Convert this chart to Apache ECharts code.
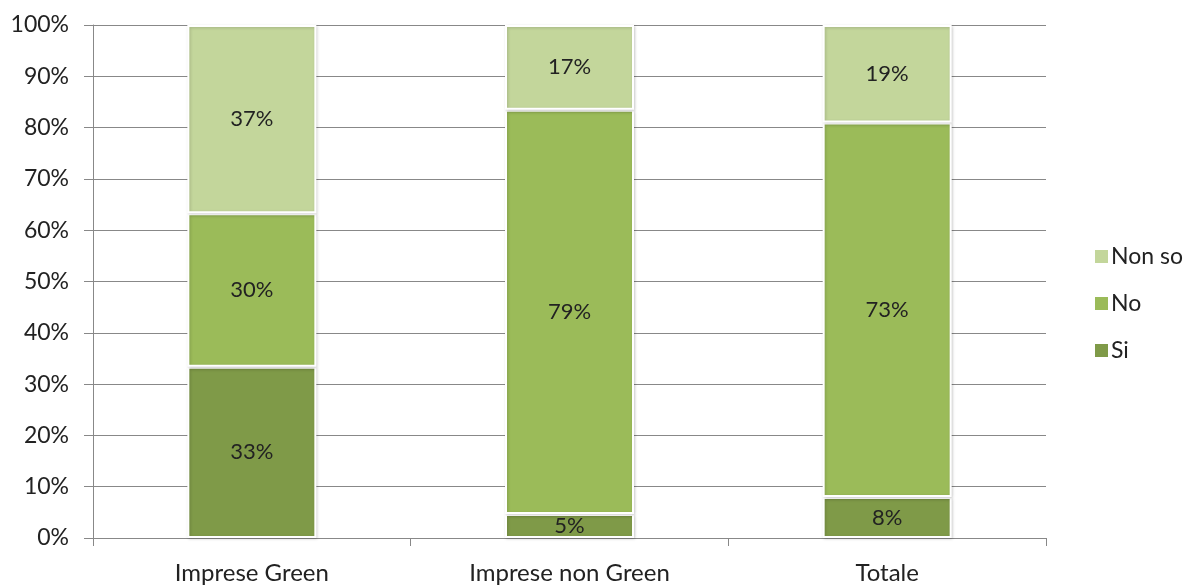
<!DOCTYPE html>
<html><head><meta charset="utf-8">
<script src="https://cdn.jsdelivr.net/npm/echarts@6/dist/echarts.min.js"></script>
<style>html,body{margin:0;padding:0;background:#fff}#c{width:1187px;height:585px}</style>
</head><body><div id="c"></div>
<script>
const categories = ["Imprese Green", "Imprese non Green", "Totale"];
const si = [33.4, 4.7, 8];
const no = [29.9, 78.8, 73];
const nonSo = [36.7, 16.5, 19];
const yTicks = [0, 10, 20, 30, 40, 50, 60, 70, 80, 90, 100];

const FONT = "Lato, 'Open Sans', sans-serif";
const chart = echarts.init(document.getElementById('c'));
function ser(name, data, color) {
  return {
    name, type: 'bar', stack: 'a', data, barWidth: 129,
    itemStyle: { color, borderColor: '#fff', borderWidth: 2, shadowColor: 'rgba(0,0,0,0.18)', shadowBlur: 3, shadowOffsetX: 1, shadowOffsetY: 1 },
    label: { show: true, position: 'inside', color: '#222', fontFamily: FONT, fontSize: 22,
      formatter: p => Math.round(p.value) + '%' }
  };
}
chart.setOption({
  animation: false,
  grid: { left: 93, right: 141, top: 25, bottom: 45 },
  legend: {
    orient: 'vertical', left: 1088, top: 240, itemGap: 24, itemWidth: 15, itemHeight: 15,
    data: ['Non so', 'No', 'Si'],
    textStyle: { fontFamily: FONT, fontSize: 23, color: '#222', padding: [0, 0, 0, -3] },
    icon: 'rect'
  },
  xAxis: {
    type: 'category', data: categories,
    axisLine: { lineStyle: { color: '#888', width: 1 } },
    axisTick: { show: true, length: 8, lineStyle: { color: '#888' } },
    axisLabel: { fontFamily: FONT, fontSize: 24, color: '#222', margin: 23 }
  },
  yAxis: {
    type: 'value', min: 0, max: 100, interval: 10,
    axisLine: { show: true, lineStyle: { color: '#888' } },
    axisTick: { show: true, length: 9, lineStyle: { color: '#888' } },
    splitLine: { lineStyle: { color: '#888' } },
    axisLabel: { fontFamily: FONT, fontSize: 23, color: '#222', margin: 24,
      formatter: v => yTicks.includes(v) ? v + '%' : '' }
  },
  series: [ser('Si', si, '#7F9A48'), ser('No', no, '#9BBB59'), ser('Non so', nonSo, '#C3D69B')]
});
</script></body></html>
